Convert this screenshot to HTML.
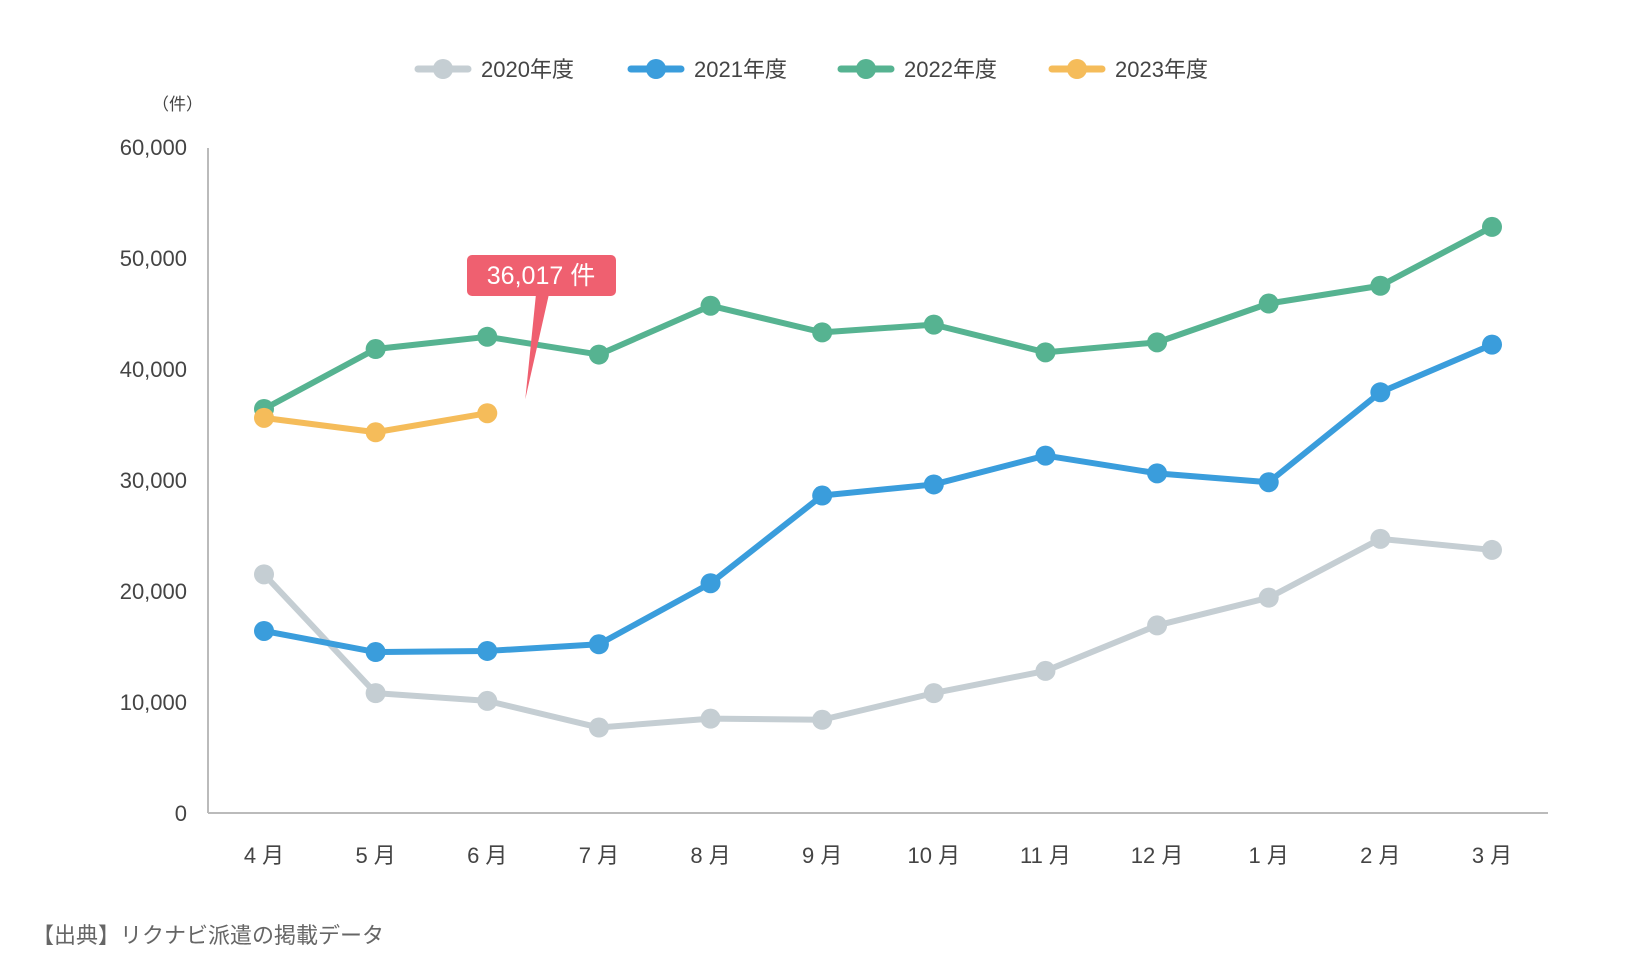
<!DOCTYPE html>
<html><head><meta charset="utf-8"><style>
body{margin:0;background:#fff}
svg text{font-family:"Liberation Sans","Noto Sans CJK JP",sans-serif;fill:#444}
</style></head><body>
<svg id="chart" width="1640" height="960" xmlns="http://www.w3.org/2000/svg">
<g id="legend"></g>
<text x="152" y="110" font-size="17">（件）</text>
<g id="axes"></g>
<g id="series"></g>
<g id="callout"></g>
<text x="32" y="943" font-size="22" style="fill:#666">【出典】リクナビ派遣の掲載データ</text>
</svg>
<script>
const categories=["4 月","5 月","6 月","7 月","8 月","9 月","10 月","11 月","12 月","1 月","2 月","3 月"];
const yTicks=[0,10000,20000,30000,40000,50000,60000];
const seriesNames=["2020年度","2021年度","2022年度","2023年度"];
const s2020=[21500,10800,10100,7700,8500,8400,10800,12800,16900,19400,24700,23700];
const s2021=[16400,14500,14600,15200,20700,28600,29600,32200,30600,29800,37900,42200];
const s2022=[36400,41800,42900,41300,45700,43300,44000,41500,42400,45900,47500,52800];
const s2023=[35600,34300,36017];
const calloutLabel="36,017 件";
const colors=["#c5ced3","#3a9ddc","#56b391","#f5bc5a"];
const NS="http://www.w3.org/2000/svg";
function mk(t,a,p){const e=document.createElementNS(NS,t);for(const k in a)e.setAttribute(k,a[k]);p.appendChild(e);return e;}
const x0=264,dx=(1492-264)/11,y0=813,y1=147;
const X=i=>x0+i*dx, Y=v=>y0-(v/60000)*(y0-y1);
const axes=document.getElementById('axes');
let l=mk('line',{x1:208,y1:148,x2:208,y2:y0,stroke:'#bbb','stroke-width':2},axes);

l=mk('line',{x1:208,y1:y0,x2:1548,y2:y0,stroke:'#bbb','stroke-width':2},axes);

yTicks.forEach(v=>{const t=mk('text',{x:187,y:Y(v)+8,'text-anchor':'end','font-size':22},axes);t.textContent=v.toLocaleString('en-US');

});
categories.forEach((c,i)=>{const t=mk('text',{x:X(i),y:863,'text-anchor':'middle','font-size':22},axes);t.textContent=c;

});
const ser=document.getElementById('series');
[s2020,s2021,s2022,s2023].forEach((d,si)=>{
 const g=mk('g',{},ser);
 
 
 mk('polyline',{points:d.map((v,i)=>X(i)+','+Y(v)).join(' '),fill:'none',stroke:colors[si],'stroke-width':6,'stroke-linejoin':'round'},g);
 d.forEach((v,i)=>{const c=mk('circle',{cx:X(i),cy:Y(v),r:10,fill:colors[si]},g);
 
 });
});
const lg=document.getElementById('legend');
const lx=[418,631,841,1052];
seriesNames.forEach((n,i)=>{const g=mk('g',{},lg);
 
 
 mk('line',{x1:lx[i],y1:69,x2:lx[i]+50,y2:69,stroke:colors[i],'stroke-width':7,'stroke-linecap':'round'},g);
 mk('circle',{cx:lx[i]+25,cy:69,r:10,fill:colors[i]},g);
 const t=mk('text',{x:lx[i]+63,y:77,'font-size':22},g);t.textContent=n;});
const co=document.getElementById('callout');
const px=X(2),py=Y(s2023[2]);
mk('path',{d:`M536 294 L549 294 L${px+38} ${py-14} Z`,fill:'#ef6070'},co);
mk('rect',{x:467,y:255,width:149,height:41,rx:5,fill:'#ef6070'},co);
const ct=mk('text',{x:541,y:284,'text-anchor':'middle','font-size':25,style:'fill:#fff'},co);ct.textContent=calloutLabel;
</script>
</body></html>
